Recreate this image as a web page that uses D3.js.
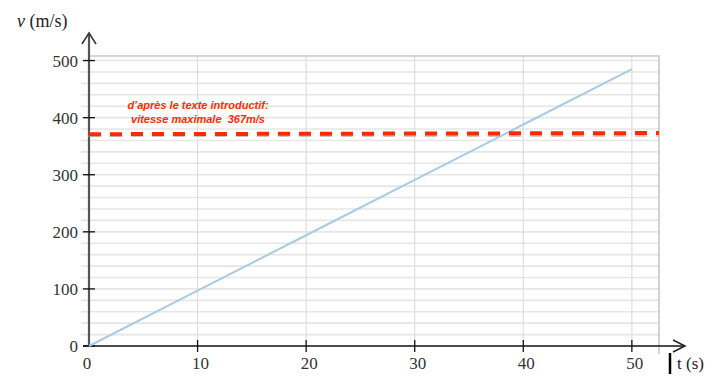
<!DOCTYPE html>
<html><head><meta charset="utf-8">
<script src="https://cdn.jsdelivr.net/npm/d3@7"></script>
<style>html,body{margin:0;padding:0;background:#fff;}
.sf{font-family:'Liberation Serif','Times New Roman',serif;}
.an{font-family:'Liberation Sans',Arial,sans-serif;font-weight:bold;font-style:italic;white-space:pre;}
</style>
</head><body>
<svg id="c" width="722" height="378"></svg>
<script>
// Data
const tValues = [0, 10, 20, 30, 40, 50];
const vValues = [0, 97, 194, 291, 388, 485];
const maxSpeedLine = [[0, 371], [52.5, 373]];
const xTickLabels = [0, 10, 20, 30, 40, 50];
const yTickLabels = [0, 100, 200, 300, 400, 500];
const annotation = ["d\u2019après le texte introductif:", "vitesse maximale  367m/s"];

const svg = d3.select("#c");
const x = d3.scaleLinear().domain([0, 52.5]).range([89, 659]);
const y = d3.scaleLinear().domain([0, 508]).range([346, 56]);

// Grid
const hGrid = d3.range(20, 501, 20);
svg.append("g").selectAll("line").data(hGrid).join("line")
  .attr("x1", 81).attr("x2", x(52.5)).attr("y1", d => y(d)).attr("y2", d => y(d))
  .attr("stroke", "#e6e6e6").attr("stroke-width", 1.6);
svg.append("g").selectAll("line").data([10, 20, 30, 40, 50]).join("line")
  .attr("x1", d => x(d)).attr("x2", d => x(d)).attr("y1", y(508)).attr("y2", y(0))
  .attr("stroke", "#dedede").attr("stroke-width", 1.2);
svg.append("path").attr("d", `M${x(0)},${y(508)}H${x(52.5)}V${y(0) + 8}`)
  .attr("fill", "none").attr("stroke", "#c8c8c8").attr("stroke-width", 1.6);

// Axes
const g = svg.append("g");
g.append("line").attr("x1", x(0)).attr("x2", x(0)).attr("y1", y(0)).attr("y2", 33)
  .attr("stroke", "#555").attr("stroke-width", 2.2);
g.append("path").attr("d", "M82,44L89,33L96,44").attr("fill", "none").attr("stroke", "#333").attr("stroke-width", 1.5);
g.append("line").attr("x1", 83).attr("x2", 685).attr("y1", y(0)).attr("y2", y(0))
  .attr("stroke", "#111").attr("stroke-width", 1.5);
g.append("path").attr("d", "M673,340L685,346L673,352").attr("fill", "none").attr("stroke", "#222").attr("stroke-width", 1.5);

g.selectAll(".yt").data(yTickLabels).join("line")
  .attr("x1", 83).attr("x2", 95).attr("y1", d => y(d)).attr("y2", d => y(d))
  .attr("stroke", "#111").attr("stroke-width", 1.3);
g.selectAll(".yl").data(yTickLabels).join("text").attr("class", "sf")
  .attr("x", 78).attr("y", d => y(d)).attr("dy", "0.35em").attr("text-anchor", "end")
  .style("font-size", "17px").attr("fill", "#333").text(d => d);
g.selectAll(".xt").data(xTickLabels.slice(1)).join("line")
  .attr("x1", d => x(d)).attr("x2", d => x(d)).attr("y1", 340).attr("y2", 352)
  .attr("stroke", "#111").attr("stroke-width", 1.3);
g.selectAll(".xl").data(xTickLabels).join("text").attr("class", "sf")
  .attr("x", d => x(d) + (d === 0 ? -2 : 3)).attr("y", 369).attr("text-anchor", "middle")
  .style("font-size", "17px").attr("fill", "#333").text(d => d);

// Axis titles
const vt = svg.append("text").attr("class", "sf").attr("x", 17).attr("y", 27).style("font-size", "18px").attr("fill", "#222");
vt.append("tspan").style("font-style", "italic").text("v");
vt.append("tspan").text(" (m/s)");
svg.append("text").attr("class", "sf").attr("x", 677).attr("y", 369).style("font-size", "17px").attr("fill", "#222").text("t (s)");
svg.append("line").attr("x1", 670).attr("x2", 670).attr("y1", 353).attr("y2", 374).attr("stroke", "#000").attr("stroke-width", 2.5);

// Speed line
const line = d3.line().x((d, i) => x(tValues[i])).y(d => y(d));
svg.append("path").datum(vValues).attr("d", line).attr("fill", "none")
  .attr("stroke", "#a9cbe3").attr("stroke-width", 2);

// Dashed max line with shadow
const dl = d3.line().x(d => x(d[0])).y(d => y(d[1]));
svg.append("defs").append("filter").attr("id", "bl").append("feGaussianBlur").attr("stdDeviation", 1.2);
svg.append("path").datum(maxSpeedLine).attr("d", dl).attr("transform", "translate(0,2.5)")
  .attr("fill", "none").attr("stroke", "#bbb").attr("stroke-width", 3.5).attr("stroke-dasharray", "12,9").attr("filter", "url(#bl)");
svg.append("path").datum(maxSpeedLine).attr("d", dl).attr("fill", "none")
  .attr("stroke", "#ff2a00").attr("stroke-width", 4).attr("stroke-dasharray", "12,9");

// Annotation
svg.append("g").selectAll("text").data(annotation).join("text").attr("class", "an")
  .attr("x", 198).attr("y", (d, i) => 109 + i * 14).attr("text-anchor", "middle")
  .style("font-size", "11px").attr("fill", "#ff2a00").text(d => d);
</script>
</body></html>
